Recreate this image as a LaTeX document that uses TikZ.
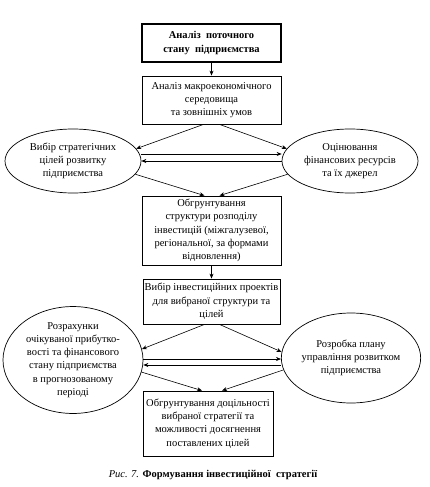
\documentclass[tikz,border=0pt]{standalone}
\usepackage{fontspec}
\setmainfont{Liberation Serif}
\usetikzlibrary{shapes.geometric,arrows.meta}
\begin{document}
\begin{tikzpicture}[x=1pt,y=-1pt,
  every node/.style={font=\fontsize{10.5}{13.3}\selectfont, align=center, inner sep=0pt},
  boxnode/.style={draw, line width=0.8pt, rectangle},
  ellnode/.style={draw, line width=0.7pt, ellipse},
  arr/.style={-{Stealth[length=5pt,width=4pt]}, line width=0.6pt}]
\useasboundingbox (0,0) rectangle (429,487);
\node[boxnode, line width=1.4pt, minimum width=139pt, minimum height=38pt] (b1) at (211.5,43) {\bfseries Аналіз\ \ поточного\\\bfseries стану\ \ підприємства};
\node[boxnode, minimum width=139pt, minimum height=48pt] (b2) at (211.5,100) {Аналіз макроекономічного\\середовища\\та зовнішніх умов};
\node[ellnode, minimum width=136pt, minimum height=64pt] (e1) at (73,161) {Вибір стратегічних\\цілей розвитку\\підприємства};
\node[ellnode, minimum width=136pt, minimum height=64pt] (e2) at (350,161) {Оцінювання\\фінансових ресурсів\\та їх джерел};
\node[boxnode, minimum width=139pt, minimum height=69pt] (b3) at (211.5,230.5) {Обгрунтування\\структури розподілу\\інвестицій (міжгалузевої,\\регіональної, за формами\\відновлення)};
\node[boxnode, minimum width=137pt, minimum height=45pt] (b4) at (211.5,301.5) {Вибір інвестиційних проектів\\для вибраної структури та\\цілей};
\node[ellnode, minimum width=140pt, minimum height=95pt] (e3) at (73,360) {Розрахунки\\очікуваної прибутко-\\вості та фінансового\\стану підприємства\\в прогнозованому\\періоді};
\node[ellnode, minimum width=138pt, minimum height=90pt] (e4) at (351,358) {Розробка плану\\управління розвитком\\підприємства};
\node[boxnode, minimum width=130pt, minimum height=65pt] (b5) at (208,423.5) {Обгрунтування доцільності\\вибраної стратегії та\\можливості досягнення\\поставлених цілей};
\node (cap) at (213,475) {\itshape Рис. 7. \bfseries\upshape Формування інвестиційної\ \ стратегії};
\draw[arr] (b1) -- (b2);
\draw[arr] ([xshift=-8pt]b2.south) -- (e1.11);
\draw[arr] ([xshift=8pt]b2.south) -- (e2.169);
\draw[arr] ([yshift=7pt]e1.east) -- ([yshift=7pt]e2.west);
\draw[arr] (e2.west) -- (e1.east);
\draw[arr] (e1.-12) -- ([xshift=-7pt]b3.north);
\draw[arr] (e2.192) -- ([xshift=8pt]b3.north);
\draw[arr] (b3) -- (b4);
\draw[arr] ([xshift=-7pt]b4.south) -- (e3.9);
\draw[arr] ([xshift=8pt]b4.south) -- (e4.175);
\draw[arr] ([yshift=1pt]e3.east) -- ([yshift=-1pt]e4.west);
\draw[arr] ([yshift=-7pt]e4.west) -- ([yshift=-5pt]e3.east);
\draw[arr] (e3.-10) -- ([xshift=-6pt]b5.north);
\draw[arr] (e4.-170) -- ([xshift=14pt]b5.north);
\end{tikzpicture}
\end{document}
